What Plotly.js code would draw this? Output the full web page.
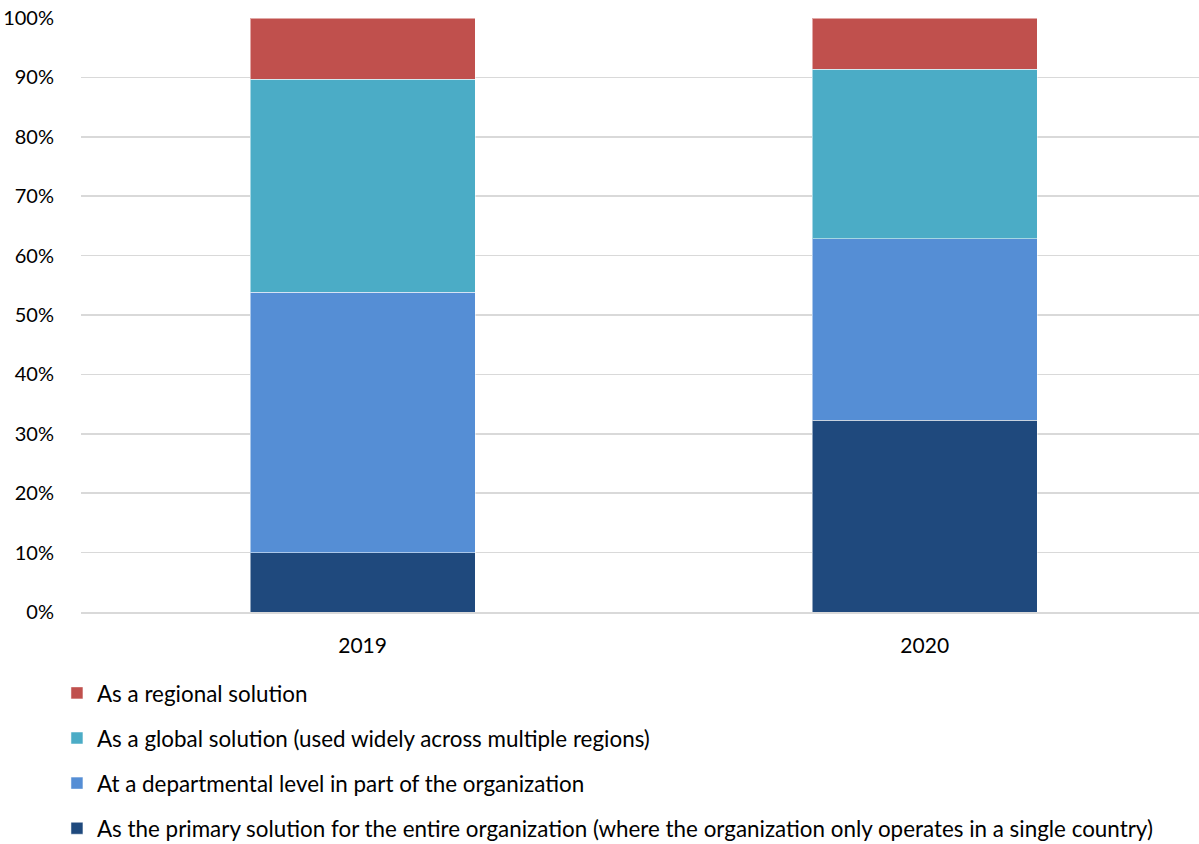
<!DOCTYPE html>
<html>
<head>
<meta charset="utf-8">
<script src="https://cdn.plot.ly/plotly-3.0.1.min.js"></script>
<style>html,body{margin:0;padding:0;background:#fff;}#chart{width:1199px;height:844px;}</style>
</head>
<body>
<div id="chart"></div>
<script>
const categories = ["2019", "2020"];
const seriesNames = [
  "As the primary solution for the entire organization (where the organization only operates in a single country)",
  "At a departmental level in part of the organization",
  "As a global solution (used widely across multiple regions)",
  "As a regional solution"
];
const primaryVals = [10.0, 32.3];
const departmentalVals = [43.8, 30.5];
const globalVals = [35.9, 28.6];
const regionalVals = [10.3, 8.6];
const colors = ["#1F497D", "#558ED5", "#4BACC6", "#C0504D"];
const tickVals = [0, 10, 20, 30, 40, 50, 60, 70, 80, 90, 100];
const tickText = tickVals.map(v => v + "%");

const seriesVals = [primaryVals, departmentalVals, globalVals, regionalVals];
const font = "Lato, 'Open Sans', sans-serif";
const data = seriesVals.map((vals, i) => ({
  type: "bar",
  name: seriesNames[i],
  x: categories,
  y: vals,
  width: 0.4,
  legendgroup: "g" + i,
  legendrank: 1000 - i,
  marker: {color: colors[i], line: {color: "rgba(255,255,255,0.5)", width: 1}},
  hoverinfo: "x+y+name"
}));

const layout = {
  width: 1199, height: 844,
  barmode: "stack",
  margin: {l: 81, r: 0, t: 18, b: 232},
  paper_bgcolor: "#fff", plot_bgcolor: "#fff",
  font: {family: font, color: "#000", size: 16},
  xaxis: {type: "category", range: [-0.501, 1.488], showline: true, linecolor: "#d9d9d9", linewidth: 1.5,
          ticks: "outside", ticklen: 14, tickcolor: "rgba(0,0,0,0)", tickfont: {size: 21}},
  yaxis: {range: [0, 100], tickvals: tickVals, ticktext: tickText, showgrid: true, gridcolor: "#d9d9d9", gridwidth: 1.5,
          zeroline: false, showline: false, ticks: "outside", ticklen: 22, tickcolor: "rgba(0,0,0,0)", tickfont: {size: 20}},
  showlegend: true,
  legend: {orientation: "v", xref: "paper", yref: "container", x: -0.0215, xanchor: "left", y: 0.204, yanchor: "top",
           traceorder: "grouped", tracegroupgap: 13, font: {size: 22.4, family: font}, itemwidth: 30}
};

Plotly.newPlot("chart", data, layout, {displayModeBar: false, staticPlot: true});
</script>
</body>
</html>
